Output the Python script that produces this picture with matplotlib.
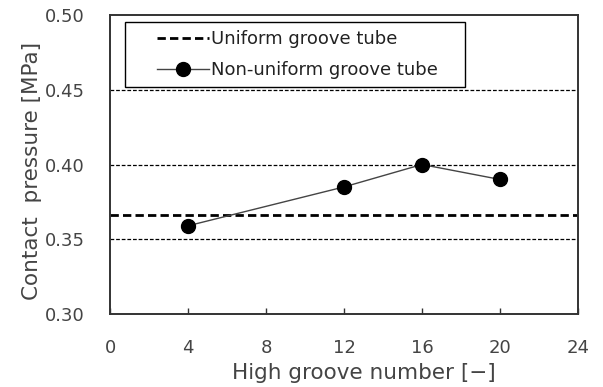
import matplotlib.pyplot as plt
from matplotlib.lines import Line2D
from matplotlib.patches import Rectangle

plt.rcParams['font.family'] = ['DejaVu Sans']

groove_number = [4, 12, 16, 20]
pressure_nonuniform = [0.359, 0.385, 0.400, 0.390]
pressure_uniform = 0.366

x_ticks = [0, 4, 8, 12, 16, 20, 24]
y_ticks = [0.30, 0.35, 0.40, 0.45, 0.50]
y_grid = [0.35, 0.40, 0.45]

fig = plt.figure(figsize=(6.03, 3.87), dpi=100)
ax = fig.add_axes([110 / 603, 1 - 314 / 387, 468 / 603, 299 / 387])

for g in y_grid:
    ax.axhline(g, color='black', lw=0.9, ls=(0, (3, 1.5)), zorder=1)

ax.axhline(pressure_uniform, color='black', lw=2.0, ls=(0, (3, 1.5)), zorder=2)
ax.plot(groove_number, pressure_nonuniform, color='#444444', lw=1.0,
        marker='o', ms=10, mfc='black', mec='black', zorder=3)

ax.set_xlim(0, 24)
ax.set_ylim(0.30, 0.50)
ax.set_xticks(x_ticks)
ax.set_yticks(y_ticks)
ax.set_yticklabels([f'{v:.2f}' for v in y_ticks])
ax.tick_params(axis='x', direction='in', length=4, width=1, pad=18,
               labelsize=13, colors='#333333')
ax.tick_params(axis='y', length=0, pad=18, labelsize=13, colors='#333333')
for lab in ax.get_xticklabels() + ax.get_yticklabels():
    lab.set_color('#444444')
for s in ax.spines.values():
    s.set_linewidth(1.4)
    s.set_color('#333333')

ax.set_xlabel('High groove number [−]', fontsize=15.5, color='#444444', labelpad=4)
ax.set_ylabel('Contact  pressure [MPa]', fontsize=15.5, color='#444444', labelpad=2)
ax.xaxis.label.set_x(0.543)
ax.yaxis.label.set_y(0.478)

handles = [
    Line2D([], [], color='black', lw=2.0, ls=(0, (3, 1.5))),
    Line2D([], [], color='#444444', lw=1.0, marker='o', ms=10,
           mfc='black', mec='black'),
]
leg = ax.legend(handles, ['Uniform groove tube', 'Non-uniform groove tube'],
                loc='upper left', bbox_to_anchor=(0.100, 0.950),
                fontsize=13, frameon=False,
                handlelength=2.9, handletextpad=0.1, borderpad=0,
                labelspacing=0.72, borderaxespad=0)
for t in leg.get_texts():
    t.set_color('#222222')
leg.set_zorder(5)

# legend box drawn wider than the entries, with extra room at both sides
fig.canvas.draw()
bb = leg.get_window_extent().transformed(fig.transFigure.inverted())
pad_l, pad_r, pad_v = 32 / 603, 27 / 603, 8 / 387
box = Rectangle((bb.x0 - pad_l, bb.y0 - pad_v),
                bb.width + pad_l + pad_r, bb.height + 2 * pad_v,
                transform=fig.transFigure, facecolor='white',
                edgecolor='black', lw=1.0, zorder=4)
ax.add_artist(box)

fig.savefig('out.png', dpi=100)
